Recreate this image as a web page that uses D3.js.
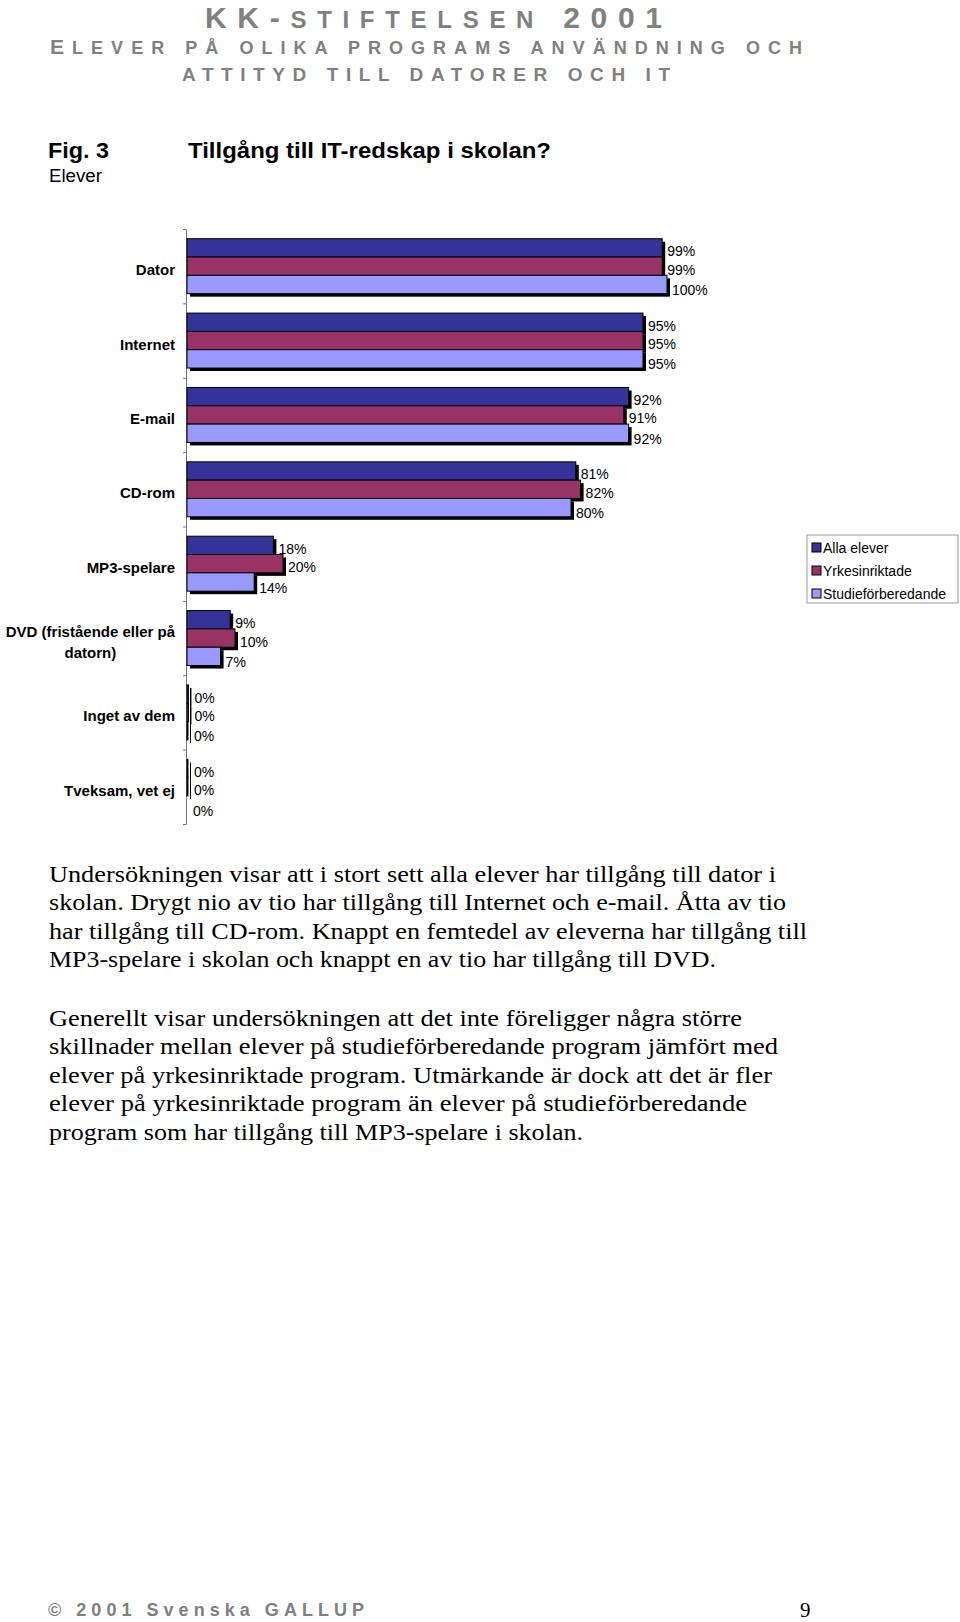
<!DOCTYPE html>
<html>
<head>
<meta charset="utf-8">
<script src="https://cdn.jsdelivr.net/npm/d3@7"></script>
<style>
  body { margin: 0; background: #fff; }
  svg { display: block; }
</style>
</head>
<body>
<div id="chart"></div>
<script>
// categories and series values
// (the "0%" rows still show hairline bars, so they are tiny non-zero shares)
var categories = ["Dator", "Internet", "E-mail", "CD-rom", "MP3-spelare",
    "DVD (fristående eller på datorn)", "Inget av dem", "Tveksam, vet ej"];
var seriesNames = ["Alla elever", "Yrkesinriktade", "Studieförberedande"];
var allaElever = [99, 95, 92, 81, 18, 9, 0.3, 0.2];
var yrkesinriktade = [99, 95, 91, 82, 20, 10, 0.3, 0.2];
var studieforberedande = [100, 95, 92, 80, 14, 7, 0.2, 0];
var seriesColors = ["#333399", "#993366", "#9999ff"];

var paragraph1 = [
    "Undersökningen visar att i stort sett alla elever har tillgång till dator i",
    "skolan. Drygt nio av tio har tillgång till Internet och e-mail. Åtta av tio",
    "har tillgång till CD-rom. Knappt en femtedel av eleverna har tillgång till",
    "MP3-spelare i skolan och knappt en av tio har tillgång till DVD."
];
var paragraph2 = [
    "Generellt visar undersökningen att det inte föreligger några större",
    "skillnader mellan elever på studieförberedande program jämfört med",
    "elever på yrkesinriktade program. Utmärkande är dock att det är fler",
    "elever på yrkesinriktade program än elever på studieförberedande",
    "program som har tillgång till MP3-spelare i skolan."
];
// right edges of the body text lines
var paragraph1Ends = [776, 786, 807, 716];
var paragraph2Ends = [742, 778, 772, 747, 583];

var W = 960, H = 1622;
var gray = "#808080";
var sans = "'Liberation Sans', Arial, Helvetica, sans-serif";
var serif = "'Liberation Serif', 'Times New Roman', serif";
var pct = d3.format(".0f");

var svg = d3.select("#chart").append("svg")
    .attr("width", W)
    .attr("height", H);
svg.append("rect").attr("width", W).attr("height", H).attr("fill", "#fff");

// ---- page header
var h1 = svg.append("text")
    .attr("x", 205).attr("y", 28)
    .attr("textLength", 457).attr("lengthAdjust", "spacing")
    .attr("font-family", sans).attr("font-weight", "bold")
    .attr("fill", gray);
h1.append("tspan").attr("font-size", 30).text("KK-");
h1.append("tspan").attr("font-size", 24).text("STIFTELSEN");
h1.append("tspan").attr("font-size", 30).text(" 2001");

var h2 = svg.append("text")
    .attr("x", 50).attr("y", 54)
    .attr("textLength", 752).attr("lengthAdjust", "spacing")
    .attr("font-family", sans).attr("font-weight", "bold")
    .attr("fill", gray);
h2.append("tspan").attr("font-size", 21).text("E");
h2.append("tspan").attr("font-size", 18).text("LEVER PÅ OLIKA PROGRAMS ANVÄNDNING OCH");

svg.append("text")
    .attr("x", 182).attr("y", 81)
    .attr("textLength", 488).attr("lengthAdjust", "spacing")
    .attr("font-family", sans).attr("font-weight", "bold")
    .attr("font-size", 19).attr("fill", gray)
    .text("ATTITYD TILL DATORER OCH IT");

// ---- figure title
svg.append("text")
    .attr("x", 48).attr("y", 158)
    .attr("textLength", 61).attr("lengthAdjust", "spacingAndGlyphs")
    .attr("font-family", sans).attr("font-weight", "bold").attr("font-size", 22)
    .text("Fig. 3");
svg.append("text")
    .attr("x", 188).attr("y", 158)
    .attr("textLength", 363).attr("lengthAdjust", "spacingAndGlyphs")
    .attr("font-family", sans).attr("font-weight", "bold").attr("font-size", 22)
    .text("Tillgång till IT-redskap i skolan?");
svg.append("text")
    .attr("x", 49).attr("y", 182)
    .attr("textLength", 53).attr("lengthAdjust", "spacingAndGlyphs")
    .attr("font-family", sans).attr("font-size", 18)
    .text("Elever");

// ---- chart
var rows = categories.map(function (c, i) {
    return { cat: c, values: [allaElever[i], yrkesinriktade[i], studieforberedande[i]] };
});

var y0 = d3.scaleBand().domain(categories).range([229, 824]);
var y1 = d3.scaleBand().domain(seriesNames).range([0, y0.bandwidth()]).paddingOuter(0.53);
var x = d3.scaleLinear().domain([0, 100]).range([187, 667]);

// category axis: vertical line with ticks at band boundaries
var tickScale = d3.scaleLinear().domain([0, categories.length]).range(y0.range());
svg.append("g")
    .attr("transform", "translate(186,0)")
    .call(d3.axisLeft(tickScale).ticks(categories.length).tickSize(3).tickFormat(""))
    .call(function (g) {
        g.selectAll("path, line").attr("stroke", "#777").attr("stroke-width", 1);
    });

var groups = svg.selectAll("g.cat")
    .data(rows)
    .enter().append("g")
    .attr("class", "cat")
    .attr("transform", function (d) { return "translate(0," + y0(d.cat) + ")"; });

var bars = groups.selectAll("g.bar")
    .data(function (d) {
        return d.values.map(function (v, i) { return { series: seriesNames[i], value: v, idx: i }; });
    })
    .enter().append("g")
    .attr("class", "bar");

// shadows
bars.filter(function (d) { return d.value > 0; })
    .append("rect")
    .attr("x", x(0) + 3)
    .attr("y", function (d) { return y1(d.series) + 3; })
    .attr("width", function (d) { return x(d.value) - x(0); })
    .attr("height", y1.bandwidth())
    .attr("fill", "#000");

bars.filter(function (d) { return d.value > 0; })
    .append("rect")
    .attr("x", x(0))
    .attr("y", function (d) { return y1(d.series); })
    .attr("width", function (d) { return x(d.value) - x(0); })
    .attr("height", y1.bandwidth())
    .attr("fill", function (d) { return seriesColors[d.idx]; })
    .attr("stroke", "#000")
    .attr("stroke-width", 1);

bars.append("text")
    .attr("x", function (d) { return x(d.value) + (d.value < 1 ? 6 : 5); })
    .attr("y", function (d) { return y1(d.series) + y1.bandwidth() / 2 + (d.idx === 2 ? 10.5 : 8.5); })
    .attr("font-family", sans).attr("font-size", 14)
    .text(function (d) { return pct(d.value) + "%"; });

// category labels, wrapped when too long
groups.each(function (d) {
    var g = d3.select(this);
    var cy = y0.bandwidth() / 2;
    var lines = d.cat === "DVD (fristående eller på datorn)"
        ? ["DVD (fristående eller på", "datorn)"] : [d.cat];
    var t = g.append("text")
        .attr("font-family", sans).attr("font-weight", "bold").attr("font-size", 15);
    if (lines.length === 1) {
        t.attr("x", 175).attr("y", cy + 9).attr("text-anchor", "end").text(lines[0]);
    } else {
        var probe = t.append("tspan").text(lines[0]);
        var w = probe.node().getComputedTextLength();
        probe.remove();
        t.attr("text-anchor", "middle");
        lines.forEach(function (ln, k) {
            t.append("tspan")
                .attr("x", 175 - w / 2)
                .attr("y", cy - 1 + k * 21)
                .text(ln);
        });
    }
});

// legend
var legend = svg.append("g").attr("transform", "translate(807,535)");
legend.append("rect")
    .attr("width", 151).attr("height", 68)
    .attr("fill", "#fff").attr("stroke", "#999").attr("stroke-width", 1);
var items = legend.selectAll("g.item")
    .data(seriesNames)
    .enter().append("g")
    .attr("class", "item")
    .attr("transform", function (d, i) { return "translate(5," + (13 + i * 23) + ")"; });
items.append("rect")
    .attr("y", -5)
    .attr("width", 9).attr("height", 9)
    .attr("fill", function (d, i) { return seriesColors[i]; })
    .attr("stroke", "#000").attr("stroke-width", 1);
items.append("text")
    .attr("x", 11).attr("y", 5)
    .attr("font-family", sans).attr("font-size", 14)
    .text(function (d) { return d; });

// ---- body text
function writeLines(lines, ends, y) {
    lines.forEach(function (ln, i) {
        svg.append("text")
            .attr("x", 49).attr("y", y + i * 28.4)
            .attr("textLength", ends[i] - 49).attr("lengthAdjust", "spacingAndGlyphs")
            .attr("font-family", serif).attr("font-size", 22.5)
            .text(ln);
    });
}
writeLines(paragraph1, paragraph1Ends, 882);
writeLines(paragraph2, paragraph2Ends, 1026);

// ---- footer
svg.append("text")
    .attr("x", 48).attr("y", 1616)
    .attr("textLength", 316).attr("lengthAdjust", "spacing")
    .attr("font-family", sans).attr("font-weight", "bold").attr("font-size", 18)
    .attr("fill", gray)
    .text("© 2001 Svenska GALLUP");
svg.append("text")
    .attr("x", 800).attr("y", 1617)
    .attr("font-family", serif).attr("font-size", 21)
    .text("9");
</script>
</body>
</html>
